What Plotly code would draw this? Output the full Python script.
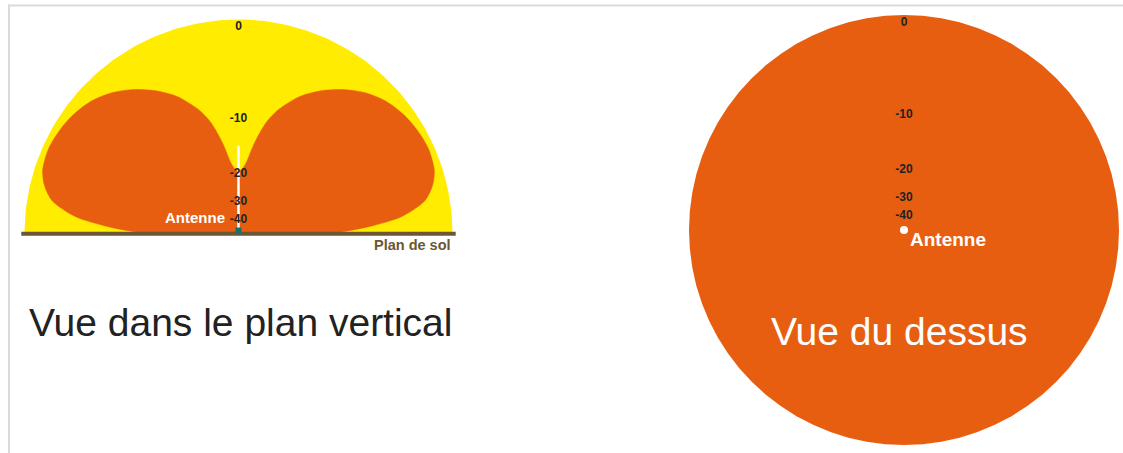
import numpy as np
import plotly.graph_objects as go

# ---------------- data ----------------
# Vertical-plane radiation lobe outline: elevation angle (deg) vs relative radius (outer circle = 1)
lobe_elev_deg = [0, 0, 0, 0, 3, 6, 10, 14, 18, 24, 30, 36, 42, 48, 54, 60, 66, 72, 76, 80,
                 84, 87, 90, 90, 90, 90]
lobe_radius = [0.0, 0.03, 0.15, 0.42, 0.61, 0.77, 0.885, 0.935, 0.962, 0.972, 0.965, 0.95,
               0.925, 0.885, 0.832, 0.77, 0.70, 0.61, 0.535, 0.43, 0.33, 0.30, 0.287,
               0.12, 0.03, 0.0]
# Horizontal-plane pattern (omnidirectional): azimuth vs relative radius
horiz_az_deg = list(range(0, 361, 5))
horiz_radius = [1.0] * len(horiz_az_deg)
# dB scale labels and their relative radius
db_labels = ["0", "-10", "-20", "-30", "-40"]
db_radius = [0.965, 0.535, 0.28, 0.148, 0.065]
antenna_height = 0.41

titles = ["Vue dans le plan vertical", "Vue du dessus"]

# ---------------- styles ----------------
ORANGE = "#E85E10"
YELLOW = "#FFEC00"
BROWN = "#6B5733"
TEAL = "#17706E"
DARK = "#222222"
W, H = 1123, 453

fig = go.Figure()

# outer half circle (full-power envelope, 0 dB)
t = np.radians(np.linspace(0, 180, 181))
fig.add_trace(go.Scatter(x=np.cos(t), y=np.sin(t), fill="toself", fillcolor=YELLOW,
                         mode="lines", line=dict(width=0), hoverinfo="skip",
                         xaxis="x", yaxis="y"))

# two lobes (mirror images)
el = np.radians(lobe_elev_deg)
rr = np.array(lobe_radius)
for side in (-1, 1):
    xs = side * rr * np.cos(el)
    ys = rr * np.sin(el)
    fig.add_trace(go.Scatter(x=xs, y=ys, fill="toself", fillcolor=ORANGE, mode="lines",
                             line=dict(width=0.5, color=ORANGE, shape="spline", smoothing=0.8),
                             hoverinfo="skip", xaxis="x", yaxis="y"))

# antenna
fig.add_trace(go.Scatter(x=[0, 0], y=[0.005, antenna_height], mode="lines",
                         line=dict(color="white", width=2.5), hoverinfo="skip",
                         xaxis="x", yaxis="y"))
# ground plane
fig.add_trace(go.Scatter(x=[-1.015, 1.015], y=[-0.001, -0.001], mode="lines",
                         line=dict(color=BROWN, width=4), hoverinfo="skip",
                         xaxis="x", yaxis="y"))
fig.add_trace(go.Scatter(x=[0], y=[0.014], mode="markers",
                         marker=dict(symbol="square", size=6, color=TEAL),
                         hoverinfo="skip", xaxis="x", yaxis="y"))

# top view circle
az = np.radians(horiz_az_deg)
hr = np.array(horiz_radius)
fig.add_trace(go.Scatter(x=hr * np.cos(az), y=hr * np.sin(az), fill="toself",
                         fillcolor=ORANGE, mode="lines", line=dict(width=0, color=ORANGE),
                         hoverinfo="skip", xaxis="x2", yaxis="y2"))
fig.add_trace(go.Scatter(x=[0], y=[0], mode="markers",
                         marker=dict(size=8, color="white"), hoverinfo="skip",
                         xaxis="x2", yaxis="y2"))

# dB labels on both panels
for xa, ya in (("x", "y"), ("x2", "y2")):
    fig.add_trace(go.Scatter(x=[0] * len(db_radius), y=db_radius, mode="text",
                             text=db_labels, textposition="middle center",
                             textfont=dict(family="Liberation Sans", size=12, color=DARK,
                                           weight="bold"),
                             hoverinfo="skip", xaxis=xa, yaxis=ya))

ann = []
ann.append(dict(x=-0.056, y=0.075, xref="x", yref="y", text="<b>Antenne</b>",
                xanchor="right", yanchor="middle", showarrow=False,
                font=dict(family="Liberation Sans", size=15, color="white")))
ann.append(dict(x=1.0, y=-0.056, xref="x", yref="y", text="<b>Plan de sol</b>",
                xanchor="right", yanchor="middle", showarrow=False,
                font=dict(family="Liberation Sans", size=14.5, color=BROWN)))
ann.append(dict(x=0.007, y=-0.414, xref="x", yref="y", text=titles[0],
                xanchor="center", yanchor="middle", showarrow=False,
                font=dict(family="Liberation Sans", size=39, color=DARK)))
ann.append(dict(x=0.019, y=-0.042, xref="x2", yref="y2", text="<b>Antenne</b>",
                xanchor="left", yanchor="middle", showarrow=False,
                font=dict(family="Liberation Sans", size=19, color="white")))
ann.append(dict(x=-0.019, y=-0.474, xref="x2", yref="y2", text=titles[1],
                xanchor="center", yanchor="middle", showarrow=False,
                font=dict(family="Liberation Sans", size=39, color="white")))

# axis ranges so that each panel's centre/radius land where the original drew them
def ranges(cx, cy, R, d0, d1):
    px0, px1 = d0 * W, d1 * W
    xr = [(px0 - cx) / R, (px1 - cx) / R]
    yr = [-(H - cy) / R, cy / R]
    return xr, yr

xr1, yr1 = ranges(238.5, 233.5, 214, 0.0, 0.5)
xr2, yr2 = ranges(904, 230, 215, 0.5, 1.0)
axis_common = dict(visible=False, showgrid=False, zeroline=False, fixedrange=True)

fig.update_layout(
    width=W, height=H, autosize=False,
    margin=dict(l=0, r=0, t=0, b=0),
    paper_bgcolor="white", plot_bgcolor="rgba(0,0,0,0)",
    showlegend=False,
    xaxis=dict(domain=[0, 0.5], range=xr1, **axis_common),
    yaxis=dict(domain=[0, 1], range=yr1, **axis_common),
    xaxis2=dict(domain=[0.5, 1], range=xr2, anchor="y2", **axis_common),
    yaxis2=dict(domain=[0, 1], range=yr2, anchor="x2", **axis_common),
    annotations=ann,
    shapes=[
        dict(type="line", xref="paper", yref="paper", x0=8 / W, x1=1, y0=1 - 5.5 / H,
             y1=1 - 5.5 / H, line=dict(color="#DADADA", width=2)),
        dict(type="line", xref="paper", yref="paper", x0=9 / W, x1=9 / W, y0=0,
             y1=1 - 4.5 / H, line=dict(color="#DADADA", width=2)),
    ],
)

fig.write_html("out.html", config={"displayModeBar": False},
               post_script="document.body.style.margin='0';document.body.style.overflow='hidden';")
